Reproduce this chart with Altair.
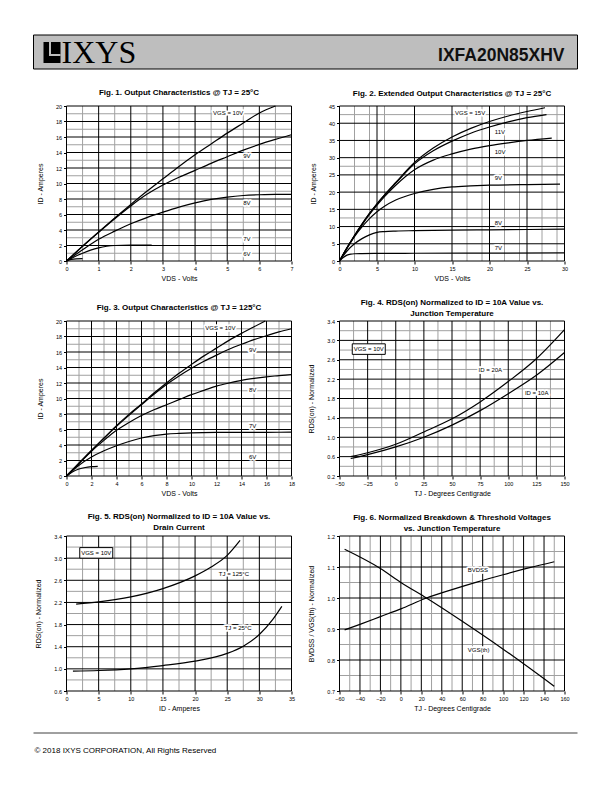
import altair as alt
import pandas as pd

FONT = "Liberation Sans"
BLACK = "#000000"
GRAY = "#a0a0a0"
PW, PH = 225, 155

# ---------------- Fig. 1 : Output characteristics @ 25C ----------------
f1_xticks = [0, 1, 2, 3, 4, 5, 6, 7]
f1_yticks = [0, 2, 4, 6, 8, 10, 12, 14, 16, 18, 20]
f1_xminor = [0.5, 1.5, 2.5, 3.5, 4.5, 5.5, 6.5]
f1_yminor = [1, 3, 5, 7, 9, 11, 13, 15, 17, 19]
f1_x_10 = [0, 0.5, 1, 1.5, 2, 2.5, 3, 3.5, 4, 4.5, 5, 5.5, 6, 6.5]
f1_y_10 = [0, 1.9, 3.75, 5.55, 7.3, 9.0, 10.6, 12.2, 13.7, 15.1, 16.5, 17.8, 19.1, 20.0]
f1_x_9 = [0, 0.5, 1, 1.5, 2, 2.5, 3, 3.5, 4, 4.5, 5, 5.5, 6, 6.5, 7]
f1_y_9 = [0, 1.9, 3.7, 5.45, 7.1, 8.6, 9.8, 10.8, 11.7, 12.6, 13.45, 14.3, 15.05, 15.7, 16.3]
f1_x_8 = [0, 0.5, 1, 1.5, 2, 2.5, 3, 3.5, 4, 4.5, 5, 5.5, 6, 6.5, 7]
f1_y_8 = [0, 1.45, 2.8, 3.85, 4.8, 5.6, 6.3, 6.95, 7.5, 7.95, 8.25, 8.45, 8.55, 8.6, 8.6]
f1_x_7 = [0, 0.25, 0.5, 0.75, 1, 1.25, 1.5, 2, 2.65]
f1_y_7 = [0, 0.55, 1.0, 1.4, 1.7, 1.9, 2.0, 2.05, 2.05]
f1_x_6 = [0, 0.15, 0.3, 0.5]
f1_y_6 = [0, 0.2, 0.28, 0.3]
f1_lab_text = ["VGS = 10V", "9V", "8V", "7V", "6V"]
f1_lab_x = [4.56, 5.5, 5.5, 5.5, 5.5]
f1_lab_y = [19.1, 13.5, 7.5, 2.9, 0.95]

# ---------------- Fig. 2 : Extended output characteristics ----------------
f2_xticks = [0, 5, 10, 15, 20, 25, 30]
f2_yticks = [0, 5, 10, 15, 20, 25, 30, 35, 40, 45]
f2_xminor = [2, 4, 6, 17, 19, 22, 24, 27, 29]
f2_yminor = [12.5, 27.5, 42.5]
f2_x_15 = [0, 1, 2, 3, 4, 5, 6, 7.5, 10, 12.5, 15, 17.5, 20, 22.5, 25, 27.4]
f2_y_15 = [0, 3.8, 7.4, 10.7, 13.8, 16.6, 19.2, 22.8, 28.6, 32.8, 36.0, 38.5, 40.5, 42.1, 43.4, 44.5]
f2_x_11 = [0, 1, 2, 3, 4, 5, 6, 7.5, 10, 12.5, 15, 17.5, 20, 22.5, 25, 27.6]
f2_y_11 = [0, 3.8, 7.4, 10.7, 13.8, 16.6, 19.1, 22.6, 28.2, 32.0, 34.8, 37.1, 38.9, 40.4, 41.6, 42.5]
f2_x_10 = [0, 1, 2, 3, 4, 5, 6, 7.5, 10, 12.5, 15, 17.5, 20, 22.5, 25, 28.3]
f2_y_10 = [0, 3.8, 7.3, 10.5, 13.5, 16.2, 18.7, 22.0, 26.5, 29.3, 31.1, 32.5, 33.5, 34.3, 35.0, 35.7]
f2_x_9 = [0, 1, 2, 3, 4, 5, 6, 7.5, 10, 12.5, 15, 17.5, 20, 25, 29.4]
f2_y_9 = [0, 3.7, 7.1, 9.9, 12.3, 14.3, 15.9, 17.7, 19.6, 20.8, 21.5, 21.8, 22.0, 22.2, 22.3]
f2_x_8 = [0, 1, 2, 3, 4, 5, 6, 7.5, 10, 15, 20, 25, 30]
f2_y_8 = [0, 2.9, 5.0, 6.5, 7.6, 8.3, 8.55, 8.7, 8.8, 8.95, 9.05, 9.15, 9.25]
f2_x_7 = [0, 0.5, 1, 1.5, 2, 3, 5, 10, 20, 30]
f2_y_7 = [0, 1.0, 1.7, 2.0, 2.1, 2.15, 2.2, 2.25, 2.3, 2.35]
f2_lab_text = ["VGS = 15V", "11V", "10V", "9V", "8V", "7V"]
f2_lab_x = [15.4, 20.7, 20.7, 20.7, 20.7, 20.7]
f2_lab_y = [42.9, 37.5, 31.7, 24.1, 11.0, 3.9]

# ---------------- Fig. 3 : Output characteristics @ 125C ----------------
f3_xticks = [0, 2, 4, 6, 8, 10, 12, 14, 16, 18]
f3_yticks = [0, 2, 4, 6, 8, 10, 12, 14, 16, 18, 20]
f3_xminor = [1, 3, 5, 7, 9, 11, 13, 15, 17]
f3_yminor = [1, 3, 5, 7, 9, 11, 13, 15, 17, 19]
f3_x_10 = [0, 1, 2, 3, 4, 5, 6, 7, 8, 9, 10, 11, 12, 13, 14, 15, 15.9]
f3_y_10 = [0, 1.65, 3.3, 4.9, 6.5, 7.95, 9.3, 10.7, 12.0, 13.25, 14.4, 15.5, 16.5, 17.5, 18.4, 19.25, 20.0]
f3_x_9 = [0, 2, 4, 6, 7, 8, 9, 10, 11, 12, 13, 14, 15, 16, 17, 18]
f3_y_9 = [0, 3.3, 6.4, 9.2, 10.55, 11.8, 12.9, 13.9, 14.8, 15.6, 16.35, 17.0, 17.6, 18.1, 18.6, 19.0]
f3_x_8 = [0, 1, 2, 3, 4, 5, 6, 7, 8, 9, 10, 11, 12, 13, 14, 15, 16, 17, 18]
f3_y_8 = [0, 1.6, 3.2, 4.6, 5.9, 6.9, 7.8, 8.55, 9.2, 9.85, 10.5, 11.05, 11.6, 12.0, 12.35, 12.6, 12.8, 12.95, 13.1]
f3_x_7 = [0, 1, 2, 3, 4, 5, 6, 7, 8, 9, 10, 12, 14, 16, 18]
f3_y_7 = [0, 1.4, 2.45, 3.25, 3.9, 4.45, 4.9, 5.2, 5.4, 5.5, 5.57, 5.62, 5.63, 5.64, 5.65]
f3_x_6 = [0, 0.5, 1, 1.5, 2, 2.5]
f3_y_6 = [0, 0.55, 0.9, 1.1, 1.2, 1.25]
f3_lab_text = ["VGS = 10V", "9V", "8V", "7V", "6V"]
f3_lab_x = [11.1, 14.6, 14.6, 14.6, 14.6]
f3_lab_y = [19.1, 16.3, 11.05, 6.45, 2.45]

# ---------------- Fig. 4 : RDS(on) vs junction temperature ----------------
f4_xticks = [-50, -25, 0, 25, 50, 75, 100, 125, 150]
f4_yticks = [0.2, 0.6, 1.0, 1.4, 1.8, 2.2, 2.6, 3.0, 3.4]
f4_xminor = [-37.5, -12.5, 12.5, 37.5, 62.5, 87.5, 112.5, 137.5]
f4_yminor = [0.4, 0.8, 1.2, 1.6, 2.0, 2.4, 2.8, 3.2]
f4_t = [-40, -25, 0, 25, 50, 75, 100, 125, 150]
f4_r_20a = [0.6, 0.68, 0.855, 1.11, 1.38, 1.73, 2.15, 2.62, 3.22]
f4_r_10a = [0.56, 0.64, 0.8, 1.0, 1.25, 1.55, 1.9, 2.28, 2.75]
f4_lab_text = ["ID = 20A", "ID = 10A"]
f4_lab_x = [73.6, 114.8]
f4_lab_y = [2.38, 1.92]
f4_box_text = ["VGS = 10V"]
f4_box_x = [-24]
f4_box_y = [2.82]

# ---------------- Fig. 5 : RDS(on) vs drain current ----------------
f5_xticks = [0, 5, 10, 15, 20, 25, 30, 35]
f5_yticks = [0.6, 1.0, 1.4, 1.8, 2.2, 2.6, 3.0, 3.4]
f5_xminor = [2.5, 7.5, 12.5, 17.5, 22.5, 27.5, 32.5]
f5_yminor = [0.8, 1.2, 1.6, 2.0, 2.4, 2.8, 3.2]
f5_i_125 = [1.5, 5, 10, 15, 20, 22.5, 25, 27]
f5_r_125 = [2.17, 2.21, 2.3, 2.45, 2.68, 2.84, 3.05, 3.32]
f5_i_25 = [1, 5, 10, 15, 20, 25, 27.5, 30, 32, 33.5]
f5_r_25 = [0.96, 0.97, 1.0, 1.06, 1.14, 1.28, 1.41, 1.62, 1.88, 2.13]
f5_lab_text = ["TJ = 125°C", "TJ = 25°C"]
f5_lab_x = [23.7, 24.6]
f5_lab_y = [2.71, 1.74]
f5_box_text = ["VGS = 10V"]
f5_box_x = [4.63]
f5_box_y = [3.095]

# ---------------- Fig. 6 : Breakdown & threshold vs temperature ----------------
f6_xticks = [-60, -40, -20, 0, 20, 40, 60, 80, 100, 120, 140, 160]
f6_yticks = [0.7, 0.8, 0.9, 1.0, 1.1, 1.2]
f6_xminor = [-50, -30, -10, 10, 30, 50, 70, 90, 110, 130, 150]
f6_yminor = [0.75, 0.85, 0.95, 1.05, 1.15]
f6_t_bv = [-55, -40, -20, 0, 25, 50, 75, 100, 125, 150]
f6_bv = [0.897, 0.915, 0.94, 0.965, 1.0, 1.027, 1.052, 1.075, 1.097, 1.117]
f6_t_vth = [-55, -20, 0, 25, 60, 100, 150]
f6_vth = [1.157, 1.095, 1.05, 1.0, 0.925, 0.835, 0.715]
f6_lab_text = ["BVDSS", "VGS(th)"]
f6_lab_x = [65.4, 65.4]
f6_lab_y = [1.09, 0.833]

BOX_PATH = "M-1,-0.32H1V0.32H-1Z"


def curves_df(*series):
    rows = []
    for name, xs, ys in series:
        for a, b in zip(xs, ys):
            rows.append({"s": name, "x": a, "y": b})
    return pd.DataFrame(rows)


def labels_df(texts, xs, ys):
    return pd.DataFrame({"t": texts, "x": xs, "y": ys})


def panel(title, toff, xticks, yticks, xminor, yminor, xtitle, ytitle,
          xfmt, yfmt, curves, labels, box=None):
    xs = alt.Scale(domain=[xticks[0], xticks[-1]], nice=False, zero=False)
    ys = alt.Scale(domain=[yticks[0], yticks[-1]], nice=False, zero=False)
    common = dict(grid=False, domain=False, ticks=True, tickSize=3, tickColor=BLACK,
                  tickWidth=1, labelFontSize=5.5, labelFont=FONT, labelColor=BLACK,
                  labelFlush=False, labelOverlap=False, titleFont=FONT,
                  titleFontSize=7, titleFontWeight="normal", titleColor=BLACK)
    xaxis = alt.Axis(values=xticks, format=xfmt, title=xtitle, labelPadding=2,
                     titlePadding=3, **common)
    yaxis = alt.Axis(values=yticks, format=yfmt, title=ytitle, labelPadding=2,
                     titlePadding=12, **common)

    def X():
        return alt.X("x:Q", scale=xs, axis=xaxis)

    def Y():
        return alt.Y("y:Q", scale=ys, axis=yaxis)

    layers = [
        alt.Chart(pd.DataFrame({"x": xminor})).mark_rule(color=GRAY, strokeWidth=1).encode(x=X()),
        alt.Chart(pd.DataFrame({"y": yminor})).mark_rule(color=GRAY, strokeWidth=1).encode(y=Y()),
        alt.Chart(pd.DataFrame({"x": xticks})).mark_rule(color=BLACK, strokeWidth=1).encode(x=X()),
        alt.Chart(pd.DataFrame({"y": yticks})).mark_rule(color=BLACK, strokeWidth=1).encode(y=Y()),
        alt.Chart(labels).mark_text(align="left", baseline="middle", font=FONT, fontSize=6,
                                    color="white", stroke="white", strokeWidth=3.5,
                                    strokeJoin="round").encode(x=X(), y=Y(), text="t:N"),
        alt.Chart(curves).mark_line(color=BLACK, strokeWidth=1.2, interpolate="monotone")
        .encode(x=X(), y=Y(), detail="s:N"),
        alt.Chart(labels).mark_text(align="left", baseline="middle", font=FONT, fontSize=6,
                                    color=BLACK).encode(x=X(), y=Y(), text="t:N"),
    ]
    if box is not None:
        layers.append(alt.Chart(box).mark_point(shape=BOX_PATH, size=1089, filled=True,
                                                fill="white", stroke=BLACK, strokeWidth=1,
                                                opacity=1).encode(x=X(), y=Y()))
        layers.append(alt.Chart(box).mark_text(align="center", baseline="middle", font=FONT,
                                               fontSize=6, color=BLACK)
                      .encode(x=X(), y=Y(), text="t:N"))
    return alt.layer(*layers).properties(
        width=PW, height=PH,
        title=alt.TitleParams(text=title, font=FONT, fontSize=8, fontWeight="bold",
                              color=BLACK, offset=toff, anchor="middle", lineHeight=11))


fig1 = panel("Fig. 1. Output Characteristics @ TJ = 25°C", 6.5,
             f1_xticks, f1_yticks, f1_xminor, f1_yminor, "VDS - Volts", "ID - Amperes", "d", "d",
             curves_df(("10V", f1_x_10, f1_y_10), ("9V", f1_x_9, f1_y_9), ("8V", f1_x_8, f1_y_8),
                       ("7V", f1_x_7, f1_y_7), ("6V", f1_x_6, f1_y_6)),
             labels_df(f1_lab_text, f1_lab_x, f1_lab_y))
fig2 = panel("Fig. 2. Extended Output Characteristics @ TJ = 25°C", 6.5,
             f2_xticks, f2_yticks, f2_xminor, f2_yminor, "VDS - Volts", "ID - Amperes", "d", "d",
             curves_df(("15V", f2_x_15, f2_y_15), ("11V", f2_x_11, f2_y_11), ("10V", f2_x_10, f2_y_10),
                       ("9V", f2_x_9, f2_y_9), ("8V", f2_x_8, f2_y_8), ("7V", f2_x_7, f2_y_7)),
             labels_df(f2_lab_text, f2_lab_x, f2_lab_y))
fig3 = panel("Fig. 3. Output Characteristics @ TJ = 125°C", 6.5,
             f3_xticks, f3_yticks, f3_xminor, f3_yminor, "VDS - Volts", "ID - Amperes", "d", "d",
             curves_df(("10V", f3_x_10, f3_y_10), ("9V", f3_x_9, f3_y_9), ("8V", f3_x_8, f3_y_8),
                       ("7V", f3_x_7, f3_y_7), ("6V", f3_x_6, f3_y_6)),
             labels_df(f3_lab_text, f3_lab_x, f3_lab_y))
fig4 = panel(["Fig. 4. RDS(on) Normalized to ID = 10A Value vs.", "Junction Temperature"], 1.5,
             f4_xticks, f4_yticks, f4_xminor, f4_yminor, "TJ - Degrees Centigrade",
             "RDS(on) - Normalized", "d", ".1f",
             curves_df(("20A", f4_t, f4_r_20a), ("10A", f4_t, f4_r_10a)),
             labels_df(f4_lab_text, f4_lab_x, f4_lab_y),
             labels_df(f4_box_text, f4_box_x, f4_box_y))
fig5 = panel(["Fig. 5. RDS(on) Normalized to ID = 10A Value vs.", "Drain Current"], 2,
             f5_xticks, f5_yticks, f5_xminor, f5_yminor, "ID - Amperes",
             "RDS(on) - Normalized", "d", ".1f",
             curves_df(("125", f5_i_125, f5_r_125), ("25", f5_i_25, f5_r_25)),
             labels_df(f5_lab_text, f5_lab_x, f5_lab_y),
             labels_df(f5_box_text, f5_box_x, f5_box_y))
fig6 = panel(["Fig. 6. Normalized Breakdown & Threshold Voltages", "vs. Junction Temperature"], 1.5,
             f6_xticks, f6_yticks, f6_xminor, f6_yminor, "TJ - Degrees Centigrade",
             "BVDSS / VGS(th) - Normalized", "d", ".1f",
             curves_df(("bv", f6_t_bv, f6_bv), ("vth", f6_t_vth, f6_vth)),
             labels_df(f6_lab_text, f6_lab_x, f6_lab_y))

# ---------------- Header / footer ----------------
one = alt.Chart(pd.DataFrame({"k": [0]}))
header = alt.layer(
    one.mark_rect(fill="#bebebe", stroke=BLACK, strokeWidth=1)
    .encode(x=alt.value(-33), x2=alt.value(511), y=alt.value(0), y2=alt.value(34)),
    one.mark_rect(fill=BLACK).encode(x=alt.value(-23), x2=alt.value(-6), y=alt.value(7), y2=alt.value(28)),
    one.mark_rect(fill="#bebebe").encode(x=alt.value(-17.5), x2=alt.value(-15.5), y=alt.value(7), y2=alt.value(21)),
    one.mark_rect(fill="#bebebe").encode(x=alt.value(-17.5), x2=alt.value(-6), y=alt.value(19), y2=alt.value(21)),
    one.mark_text(text="IXYS", font="Liberation Serif", fontSize=32, align="left",
                  baseline="alphabetic", color=BLACK).encode(x=alt.value(-5), y=alt.value(28)),
    one.mark_text(text="IXFA20N85XHV", font=FONT, fontSize=17.5, fontWeight="bold", align="right",
                  baseline="alphabetic", color="#111111").encode(x=alt.value(498), y=alt.value(26)),
).properties(width=PW, height=11)

blank = one.mark_point(opacity=0, size=1).encode(x=alt.value(100), y=alt.value(5)).properties(width=PW, height=11)

footer = alt.layer(
    one.mark_rule(color="#404040", strokeWidth=1)
    .encode(x=alt.value(-33), x2=alt.value(511), y=alt.value(-18)),
    one.mark_text(text="© 2018 IXYS CORPORATION, All Rights Reserved", font=FONT, fontSize=8,
                  align="left", baseline="alphabetic", color=BLACK).encode(x=alt.value(-32), y=alt.value(2)),
).properties(width=PW, height=10)

chart = alt.concat(
    header, blank, fig1, fig2, fig3, fig4, fig5, fig6, footer,
    columns=2, spacing={"row": 60, "column": 48}, align="each", bounds="flush",
).properties(
    padding={"left": 24.5, "top": 26, "right": 5, "bottom": 5},
    background="white",
).configure_view(stroke="transparent")

chart.save("out.html", embed_options={"renderer": "svg", "actions": False})
